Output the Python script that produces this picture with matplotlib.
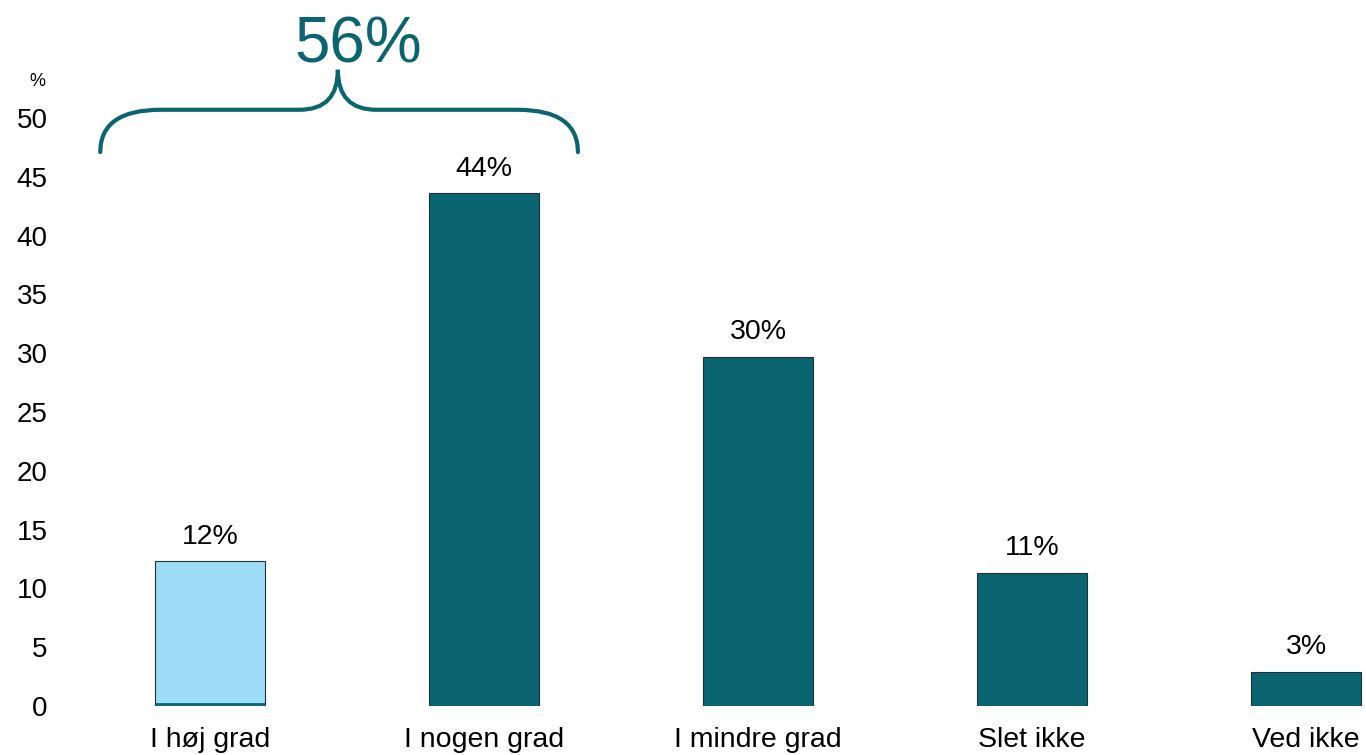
import matplotlib.pyplot as plt
from matplotlib.path import Path
from matplotlib.patches import PathPatch

categories = ["I høj grad", "I nogen grad", "I mindre grad", "Slet ikke", "Ved ikke"]
values = [12.3, 43.6, 29.7, 11.3, 2.9]
value_labels = ["12%", "44%", "30%", "11%", "3%"]
bar_colors = ["#9ddcf6", "#0a6570", "#0a6570", "#0a6570", "#0a6570"]
y_ticks = [0, 5, 10, 15, 20, 25, 30, 35, 40, 45, 50]
brace_label = "56%"

teal = "#0a6570"

plt.rcParams["font.family"] = ["Liberation Sans", "DejaVu Sans"]

fig = plt.figure(figsize=(13.66, 7.55), dpi=100)
ax = fig.add_axes([60 / 1366, 49 / 755, 1306 / 1366, 588 / 755])

x = list(range(len(categories)))
bars = ax.bar(x, values, width=0.4, color=bar_colors, edgecolor="#1f2f33", linewidth=0.8)
# dark bottom line under the light bar, as in the original
ax.plot([-0.2, 0.2], [0.15, 0.15], color=teal, linewidth=2.0, solid_capstyle="butt")

for xi, v, lab in zip(x, values, value_labels):
    ax.text(xi, v + 1.0, lab, ha="center", va="bottom", fontsize=20.5)

ax.set_xlim(-0.547, 4.219)
ax.set_ylim(0, 50)
ax.set_yticks(y_ticks)
ax.set_xticks(x)
ax.set_xticklabels(categories, fontsize=20.5)
ax.tick_params(axis="y", length=0, pad=9, labelsize=20)
ax.tick_params(axis="x", length=0, pad=15)
for s in ax.spines.values():
    s.set_visible(False)

ax.text(-0.63, 53.1, "%", fontsize=13, ha="center", va="center", clip_on=False)

# brace over the first two bars
x_left, x_right = -0.40, 1.343
x_mid = 0.467
y_end, y_flat, y_tip = 47.1, 50.7, 54.1
r = 0.22
verts = [
    (x_left, y_end), (x_left, y_flat), (x_left + r, y_flat),
    (x_mid - 0.14, y_flat),
    (x_mid, y_flat), (x_mid, y_tip),
    (x_mid, y_flat), (x_mid + 0.14, y_flat),
    (x_right - r, y_flat),
    (x_right, y_flat), (x_right, y_end),
]
codes = [
    Path.MOVETO, Path.CURVE3, Path.CURVE3,
    Path.LINETO,
    Path.CURVE3, Path.CURVE3,
    Path.CURVE3, Path.CURVE3,
    Path.LINETO,
    Path.CURVE3, Path.CURVE3,
]
brace = PathPatch(Path(verts, codes), facecolor="none", edgecolor=teal,
                  linewidth=3.0, capstyle="round", clip_on=False)
ax.add_patch(brace)
ax.text(0.54, 56.2, brace_label, fontsize=46, color=teal, ha="center", va="center",
        clip_on=False)

fig.savefig("out.png", dpi=100)
